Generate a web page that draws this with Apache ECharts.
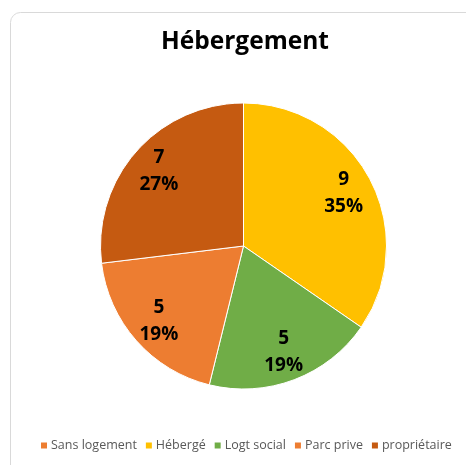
<!DOCTYPE html>
<html>
<head>
<meta charset="utf-8">
<script src="https://cdn.jsdelivr.net/npm/echarts@6/dist/echarts.min.js"></script>
<style>
  html, body { margin: 0; padding: 0; background: #fff; }
  #chart { width: 466px; height: 465px; }
</style>
</head>
<body>
<div id="chart"></div>
<script>
const categories = ['Sans logement', 'Hébergé', 'Logt social', 'Parc prive', 'propriétaire'];
const values = [0, 9, 5, 5, 7];
const colors = ['#ED7D31', '#FFC000', '#70AD47', '#ED7D31', '#C55A11'];

const font = '"Open Sans", sans-serif';
const data = categories.map((name, i) => ({
    name: name,
    value: values[i],
    itemStyle: { color: colors[i] }
}));

let chart = echarts.init(document.getElementById('chart'));

const center = [243.5, 246];
const radius = 143;

chart.setOption({
    animation: false,
    title: {
        text: 'Hébergement',
        left: 156,
        top: 25,
        textStyle: { fontFamily: font, fontSize: 24.5, fontWeight: 'bold', color: '#000' }
    },
    legend: {
        bottom: 13,
        left: 39,
        width: 426,
        itemWidth: 8,
        itemHeight: 8,
        itemGap: 7,
        icon: 'rect',
        padding: 0,
        textStyle: { fontFamily: font, fontSize: 12.5, color: '#595959', padding: [0, 0, 0, -2] },
        data: categories
    },
    graphic: [{
        type: 'rect',
        shape: { x: 10.5, y: 12.5, width: 480, height: 480, r: 10 },
        style: { fill: 'none', stroke: '#d9d9d9', lineWidth: 1 },
        silent: true
    }],
    series: [{
        type: 'pie',
        center: center,
        radius: radius,
        startAngle: 90,
        clockwise: true,
        label: { show: false },
        labelLine: { show: false },
        itemStyle: { borderColor: '#fff', borderWidth: 1 },
        emphasis: { disabled: true },
        data: data
    }, {
        // invisible ring used only to place the labels further out
        type: 'pie',
        center: center,
        radius: [radius * 0.54, radius],
        startAngle: 90,
        clockwise: true,
        silent: true,
        legendHoverLink: false,
        itemStyle: { color: 'transparent', borderWidth: 0 },
        labelLine: { show: false },
        label: {
            show: true,
            position: 'inside',
            fontFamily: font,
            fontSize: 19,
            fontWeight: 'bold',
            color: '#000',
            lineHeight: 27,
            formatter: p => p.value === 0 ? '' : p.value + '\n' + Math.round(p.percent) + '%'
        },
        emphasis: { disabled: true },
        data: categories.map((name, i) => ({ name: name, value: values[i] }))
    }]
});
</script>
</body>
</html>
